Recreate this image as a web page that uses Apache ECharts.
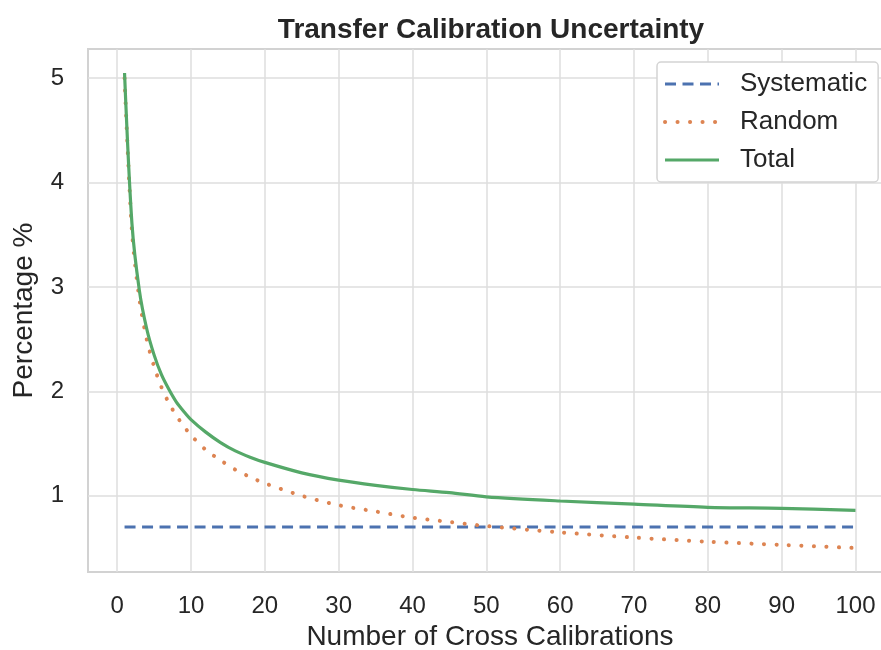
<!DOCTYPE html>
<html>
<head>
<meta charset="utf-8">
<script src="https://cdn.jsdelivr.net/npm/echarts@6/dist/echarts.min.js"></script>
<style>
  html, body { margin: 0; padding: 0; background: #fff; }
  #chart { width: 881px; height: 650px; }
</style>
</head>
<body>
<div id="chart"></div>
<script>
// values
var nCal = [1, 2, 3, 4, 5, 6, 7, 8, 9, 10, 12, 14, 16, 18, 20, 25, 30, 35, 40, 45, 50, 60, 70, 80, 90, 100];
var randomVals = [5.00, 3.54, 2.89, 2.50, 2.24, 2.04, 1.89, 1.77, 1.67, 1.58, 1.44, 1.34, 1.25, 1.18, 1.12, 1.00, 0.91, 0.85, 0.79, 0.75, 0.71, 0.65, 0.60, 0.56, 0.53, 0.50];
var totalVals = [5.05, 3.61, 2.97, 2.60, 2.35, 2.16, 2.02, 1.90, 1.81, 1.73, 1.61, 1.51, 1.43, 1.37, 1.32, 1.22, 1.15, 1.10, 1.06, 1.03, 0.99, 0.95, 0.92, 0.89, 0.88, 0.86];
var sysX = [1, 100];
var sysVals = [0.7, 0.7];
var xTicks = [0, 10, 20, 30, 40, 50, 60, 70, 80, 90, 100];
var yTicks = [1, 2, 3, 4, 5];

function pairs(xs, ys) {
  var out = [];
  for (var i = 0; i < xs.length; i++) out.push([xs[i], ys[i]]);
  return out;
}

var chart = echarts.init(document.getElementById('chart'));
var txt = '#262626';
var gridCol = '#dedede';
var font = 'Liberation Sans, Arial, sans-serif';

chart.setOption({
  animation: false,
  backgroundColor: '#fff',
  title: {
    text: 'Transfer Calibration Uncertainty',
    left: 486, top: 11, textAlign: 'center',
    textStyle: { fontFamily: font, fontSize: 28, fontWeight: 'bold', color: txt }
  },
  grid: {
    left: 88, top: 49, width: 804, height: 523,
    containLabel: false, outerBoundsMode: 'none',
    show: true, borderColor: '#d2d2d2', borderWidth: 2
  },
  legend: {
    orient: 'vertical',
    left: 657, top: 62,
    padding: [9, 11, 9, 6],
    itemWidth: 54, itemHeight: 14, itemGap: 12,
    borderColor: '#d4d4d4', borderWidth: 1.5, borderRadius: 4,
    backgroundColor: '#fff',
    itemStyle: { opacity: 0 },
    lineStyle: { width: 3 },
    textStyle: { fontFamily: font, fontSize: 26, color: txt, padding: [0, 0, 0, 16] },
    data: [
      { name: 'Systematic' },
      { name: 'Random', lineStyle: { width: 4 } },
      { name: 'Total', lineStyle: { width: 3.2 } }
    ]
  },
  xAxis: {
    type: 'value', min: -3.95, max: 104.95,
    name: 'Number of Cross Calibrations', nameLocation: 'middle', nameGap: 51,
    nameTextStyle: { fontFamily: font, fontSize: 28, color: txt },
    axisLine: { show: false, onZero: false },
    axisTick: { show: false, customValues: xTicks },
    axisLabel: { customValues: xTicks, fontFamily: font, fontSize: 24, color: txt, margin: 22 },
    splitLine: { show: true, lineStyle: { color: gridCol, width: 1.5 } }
  },
  yAxis: {
    type: 'value', min: 0.27, max: 5.28,
    name: 'Percentage %', nameLocation: 'middle', nameGap: 50,
    nameTextStyle: { fontFamily: font, fontSize: 28, color: txt },
    axisLine: { show: false, onZero: false },
    axisTick: { show: false, customValues: yTicks },
    axisLabel: { customValues: yTicks, fontFamily: font, fontSize: 24, color: txt, margin: 24 },
    splitLine: { show: true, lineStyle: { color: gridCol, width: 1.5 } }
  },
  series: [
    {
      name: 'Systematic', type: 'line', symbol: 'none',
      data: pairs(sysX, sysVals),
      itemStyle: { color: '#4C72B0' },
      lineStyle: { color: '#4C72B0', width: 3, type: [11, 6.5] }
    },
    {
      name: 'Random', type: 'line', symbol: 'none', smooth: 0.3,
      data: pairs(nCal, randomVals),
      itemStyle: { color: '#DD8452' },
      lineStyle: { color: '#DD8452', width: 4, type: [0.1, 12.4], cap: 'round' }
    },
    {
      name: 'Total', type: 'line', symbol: 'none', smooth: 0.3,
      data: pairs(nCal, totalVals),
      itemStyle: { color: '#55A868' },
      lineStyle: { color: '#55A868', width: 3.2 }
    }
  ]
});
</script>
</body>
</html>
